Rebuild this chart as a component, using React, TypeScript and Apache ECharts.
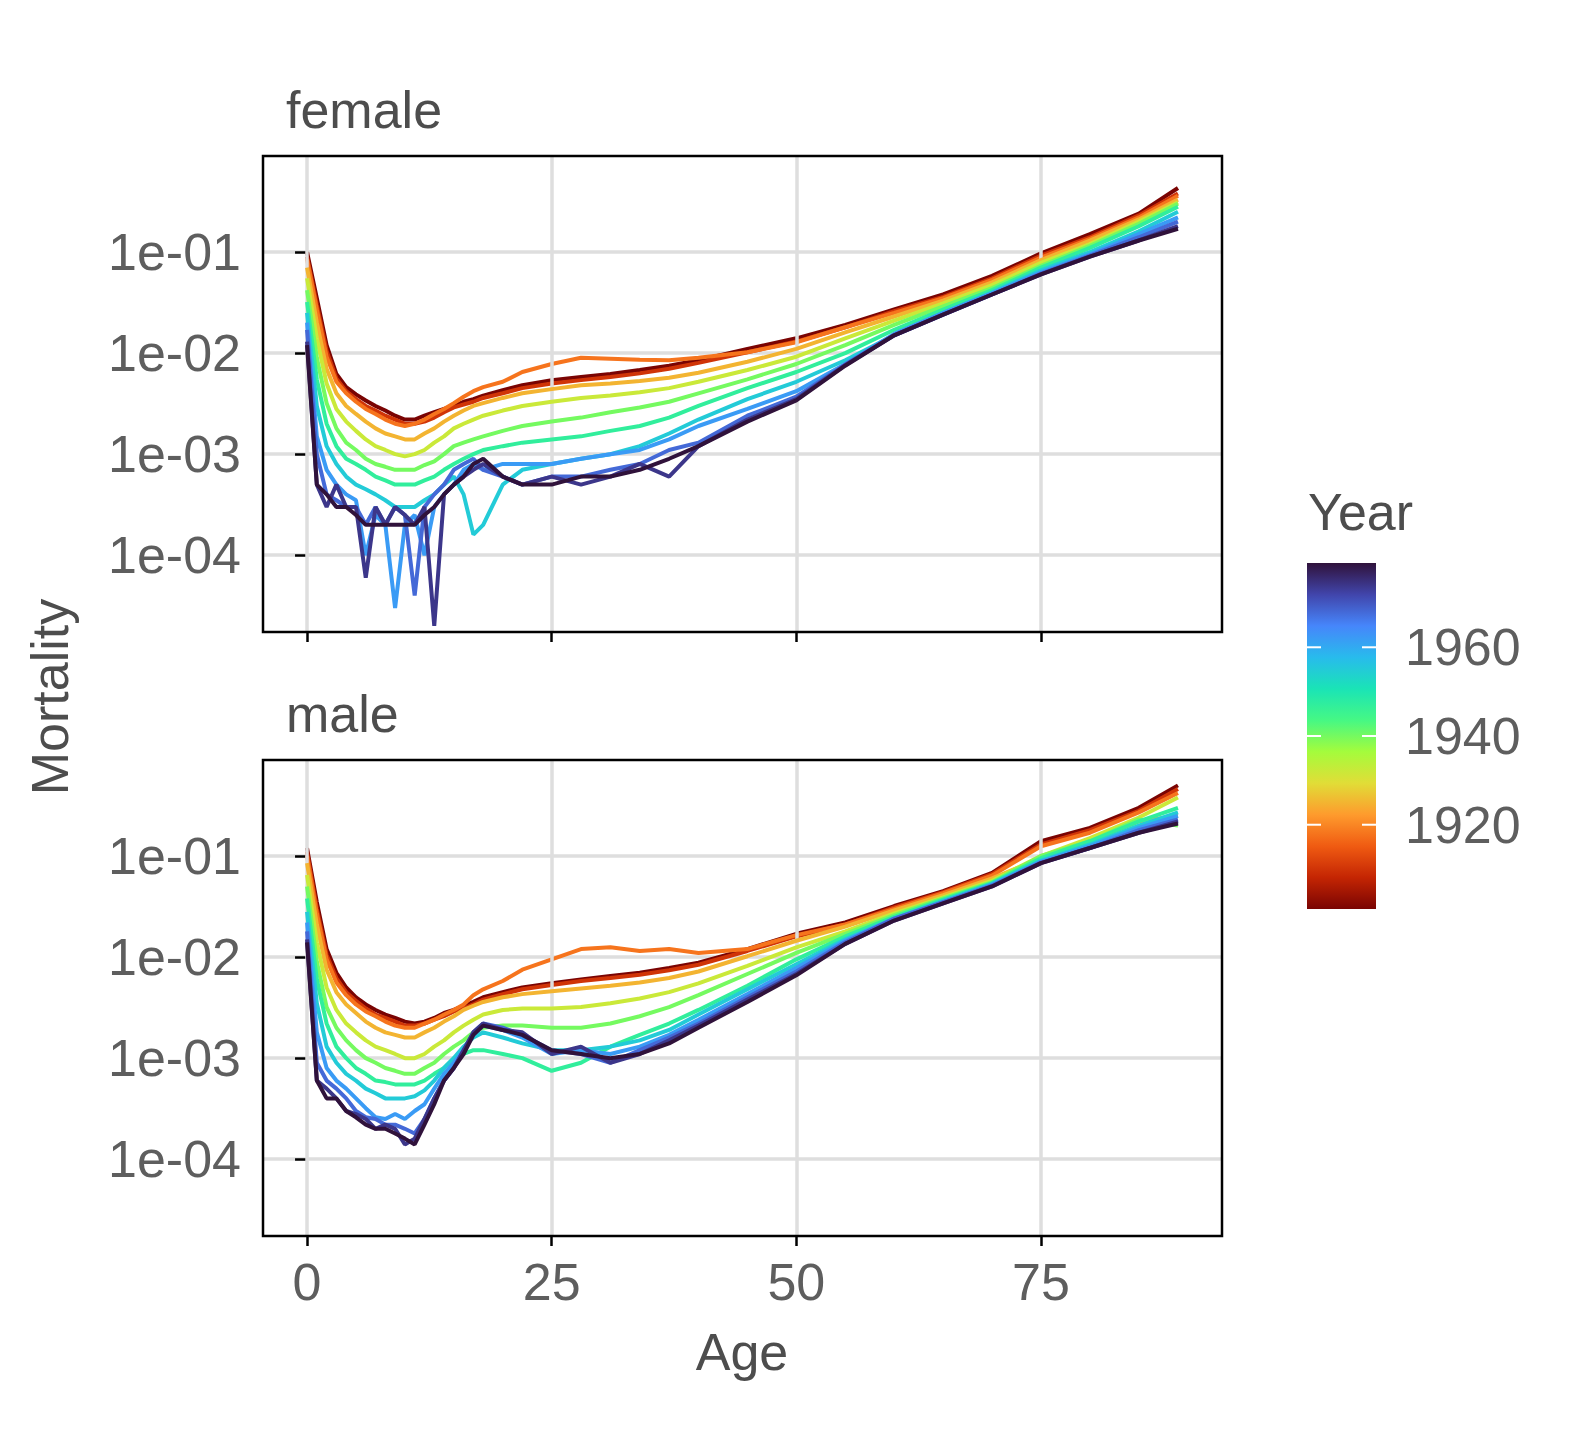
import React, { useEffect, useRef } from "react";
import * as echarts from "echarts";

const ages = [0, 1, 2, 3, 4, 5, 6, 7, 8, 9, 10, 11, 12, 13, 14, 15, 16, 17, 18, 20, 22, 25, 28, 31, 34, 37, 40, 45, 50, 55, 60, 65, 70, 75, 80, 85, 89];
const years = [1901, 1910, 1918, 1925, 1932, 1940, 1947, 1955, 1962, 1968, 1974, 1979];

const female: number[][] = [
  [0.10, 0.035, 0.012, 0.0062, 0.0046, 0.0039, 0.0034, 0.003, 0.0027, 0.0024, 0.0022, 0.0022, 0.0024, 0.0026, 0.0028, 0.003, 0.0033, 0.0035, 0.0038, 0.0043, 0.0048, 0.0054, 0.0058, 0.0062, 0.0068, 0.0075, 0.0085, 0.011, 0.014, 0.019, 0.027, 0.038, 0.058, 0.097, 0.15, 0.24, 0.43],
  [0.09, 0.03, 0.0105, 0.0056, 0.0042, 0.0035, 0.003, 0.0027, 0.0024, 0.0022, 0.002, 0.002, 0.0021, 0.0023, 0.0026, 0.0029, 0.0031, 0.0033, 0.0036, 0.004, 0.0045, 0.005, 0.0054, 0.0058, 0.0063, 0.007, 0.008, 0.0102, 0.013, 0.018, 0.026, 0.036, 0.055, 0.092, 0.14, 0.23, 0.38],
  [0.085, 0.027, 0.0092, 0.0052, 0.004, 0.0033, 0.0028, 0.0025, 0.0022, 0.002, 0.0019, 0.002, 0.0022, 0.0025, 0.0028, 0.0032, 0.0037, 0.0042, 0.0046, 0.0052, 0.0065, 0.0078, 0.009, 0.0088, 0.0086, 0.0085, 0.009, 0.0102, 0.0128, 0.018, 0.025, 0.035, 0.053, 0.088, 0.135, 0.22, 0.36],
  [0.07, 0.02, 0.007, 0.004, 0.003, 0.0025, 0.0021, 0.0018, 0.0016, 0.0015, 0.0014, 0.0014, 0.0016, 0.0018, 0.0021, 0.0024, 0.0027, 0.003, 0.0032, 0.0036, 0.004, 0.0044, 0.0048, 0.005, 0.0053, 0.0057, 0.0064, 0.0082, 0.011, 0.016, 0.023, 0.033, 0.05, 0.083, 0.13, 0.21, 0.33],
  [0.055, 0.014, 0.005, 0.0028, 0.0021, 0.0017, 0.0014, 0.0012, 0.0011, 0.001, 0.00095, 0.001, 0.0011, 0.0013, 0.0015, 0.0018, 0.002, 0.0022, 0.0024, 0.0027, 0.003, 0.0033, 0.0036, 0.0038, 0.0041, 0.0045, 0.0052, 0.0068, 0.0092, 0.014, 0.021, 0.031, 0.047, 0.078, 0.12, 0.2, 0.31],
  [0.042, 0.009, 0.0032, 0.0018, 0.0013, 0.0011, 0.0009, 0.0008, 0.00075, 0.0007, 0.0007, 0.0007, 0.00078, 0.00085, 0.001, 0.0012, 0.0013, 0.0014, 0.0015, 0.0017, 0.0019, 0.0021, 0.0023, 0.0026, 0.0029, 0.0033, 0.004, 0.0055, 0.0078, 0.012, 0.019, 0.029, 0.044, 0.073, 0.115, 0.19, 0.3],
  [0.032, 0.0055, 0.002, 0.0012, 0.0009, 0.0008, 0.0007, 0.0006, 0.00055, 0.0005, 0.0005, 0.0005, 0.00055, 0.0006, 0.0007, 0.0008, 0.0009, 0.001, 0.0011, 0.0012, 0.0013, 0.0014, 0.0015, 0.0017, 0.0019, 0.0023, 0.003, 0.0045, 0.0065, 0.01, 0.017, 0.027, 0.042, 0.07, 0.11, 0.18, 0.28],
  [0.025, 0.003, 0.0012, 0.0008, 0.0006, 0.0005, 0.00045, 0.0004, 0.00035, 0.0003, 0.0003, 0.0003, 0.00035, 0.0004, 0.0005, 0.0006, 0.0004, 0.00016, 0.0002, 0.0005, 0.0007, 0.0008, 0.0009, 0.001, 0.0012, 0.0016, 0.0022, 0.0035, 0.0052, 0.0085, 0.015, 0.025, 0.04, 0.066, 0.1, 0.16, 0.25],
  [0.02, 0.0015, 0.0007, 0.0005, 0.0004, 0.00035, 0.0001, 0.00025, 0.0002, 0.00003, 0.0002, 0.00025, 0.0001, 0.0003, 0.0004, 0.0005, 0.0007, 0.0008, 0.0007, 0.0008, 0.0008, 0.0008, 0.0009, 0.001, 0.0011, 0.0014, 0.0019, 0.0028, 0.0042, 0.0078, 0.0155, 0.025, 0.039, 0.063, 0.095, 0.15, 0.22],
  [0.017, 0.001, 0.0004, 0.00035, 0.0003, 0.0003, 0.0002, 0.0003, 0.0002, 0.0003, 0.00025, 0.00004, 0.0003, 0.0004, 0.0005, 0.0007, 0.0008, 0.0009, 0.0007, 0.0006, 0.0005, 0.0006, 0.0006, 0.0007, 0.0008, 0.0011, 0.0013, 0.0024, 0.0037, 0.0077, 0.015, 0.024, 0.038, 0.061, 0.092, 0.14, 0.2],
  [0.013, 0.0005, 0.0003, 0.0005, 0.0003, 0.0003, 0.00006, 0.0003, 0.0002, 0.0003, 0.00025, 0.0002, 0.0003, 0.00002, 0.0004, 0.0005, 0.0006, 0.0007, 0.0008, 0.0006, 0.0005, 0.0006, 0.0005, 0.0006, 0.0008, 0.0006, 0.0012, 0.0022, 0.0035, 0.0076, 0.015, 0.024, 0.038, 0.06, 0.09, 0.13, 0.18],
  [0.012, 0.0005, 0.0004, 0.0003, 0.0003, 0.00025, 0.0002, 0.0002, 0.0002, 0.0002, 0.0002, 0.0002, 0.00025, 0.0003, 0.0004, 0.0005, 0.0006, 0.0008, 0.0009, 0.0006, 0.0005, 0.0005, 0.0006, 0.0006, 0.0007, 0.0009, 0.0012, 0.0021, 0.0034, 0.0075, 0.015, 0.024, 0.038, 0.06, 0.09, 0.13, 0.17],
];

const male: number[][] = [
  [0.12, 0.035, 0.012, 0.007, 0.005, 0.004, 0.0034, 0.003, 0.0027, 0.0025, 0.0023, 0.0022, 0.0023, 0.0025, 0.0028, 0.003, 0.0033, 0.0036, 0.004, 0.0045, 0.005, 0.0055, 0.006, 0.0065, 0.007, 0.0078, 0.0088, 0.012, 0.017, 0.022, 0.032, 0.045, 0.068, 0.14, 0.19, 0.3, 0.5],
  [0.11, 0.03, 0.0105, 0.0062, 0.0045, 0.0037, 0.0031, 0.0027, 0.0025, 0.0023, 0.0021, 0.0021, 0.0022, 0.0024, 0.0026, 0.0029, 0.0031, 0.0034, 0.0038, 0.0043, 0.0048, 0.0053, 0.0058, 0.0062, 0.0067, 0.0074, 0.0084, 0.0115, 0.016, 0.021, 0.031, 0.044, 0.066, 0.13, 0.18, 0.28, 0.46],
  [0.1, 0.027, 0.0095, 0.0056, 0.0042, 0.0034, 0.0029, 0.0026, 0.0023, 0.0021, 0.002, 0.002, 0.0022, 0.0024, 0.0027, 0.003, 0.0034, 0.0042, 0.0048, 0.0058, 0.0075, 0.0095, 0.012, 0.0125, 0.0115, 0.012, 0.011, 0.012, 0.0165, 0.021, 0.03, 0.043, 0.064, 0.125, 0.17, 0.27, 0.42],
  [0.085, 0.021, 0.0075, 0.0045, 0.0034, 0.0028, 0.0023, 0.002, 0.0018, 0.0017, 0.0016, 0.0016, 0.0018, 0.002, 0.0023, 0.0026, 0.003, 0.0033, 0.0036, 0.004, 0.0043, 0.0046, 0.0049, 0.0052, 0.0056, 0.0062, 0.0072, 0.0102, 0.0145, 0.02, 0.029, 0.041, 0.06, 0.095, 0.14, 0.22, 0.25],
  [0.065, 0.014, 0.005, 0.003, 0.0022, 0.0018, 0.0015, 0.0013, 0.0012, 0.0011, 0.001, 0.001, 0.0011, 0.0013, 0.0015, 0.0018, 0.0021, 0.0024, 0.0027, 0.003, 0.0031, 0.0031, 0.0032, 0.0035, 0.0039, 0.0045, 0.0055, 0.0082, 0.0125, 0.018, 0.027, 0.039, 0.057, 0.1, 0.15, 0.24, 0.38],
  [0.05, 0.009, 0.0032, 0.002, 0.0015, 0.0012, 0.001, 0.0009, 0.0008, 0.00075, 0.0007, 0.0007, 0.0008, 0.0009, 0.0011, 0.0013, 0.0015, 0.0018, 0.002, 0.0021, 0.0021, 0.002, 0.002, 0.0022, 0.0026, 0.0032, 0.0042, 0.0068, 0.011, 0.017, 0.026, 0.038, 0.055, 0.1, 0.14, 0.23, 0.2],
  [0.038, 0.006, 0.0022, 0.0013, 0.001, 0.0008, 0.0007, 0.0006, 0.00058, 0.00055, 0.00055, 0.00055, 0.0006, 0.0007, 0.0008, 0.001, 0.0011, 0.0012, 0.0012, 0.0011, 0.001, 0.00075, 0.0009, 0.0013, 0.0017, 0.0022, 0.003, 0.0052, 0.0095, 0.016, 0.025, 0.037, 0.054, 0.095, 0.14, 0.22, 0.3],
  [0.028, 0.0035, 0.0013, 0.0009, 0.0007, 0.0006, 0.0005, 0.00045, 0.0004, 0.0004, 0.0004, 0.00042, 0.00048, 0.0006, 0.0008, 0.001, 0.0013, 0.0016, 0.0018, 0.0016, 0.0014, 0.0012, 0.0012, 0.0013, 0.0015, 0.0019, 0.0027, 0.0048, 0.0085, 0.015, 0.024, 0.036, 0.053, 0.09, 0.13, 0.2, 0.27],
  [0.022, 0.0018, 0.0008, 0.0006, 0.0005, 0.0004, 0.00032, 0.00026, 0.00025, 0.00028, 0.00025, 0.0003, 0.00035, 0.0005, 0.0007, 0.0009, 0.0012, 0.0017, 0.0021, 0.0019, 0.0016, 0.0011, 0.0012, 0.0011, 0.0013, 0.0017, 0.0024, 0.0043, 0.0078, 0.0145, 0.024, 0.035, 0.052, 0.088, 0.125, 0.19, 0.25],
  [0.018, 0.0009, 0.0006, 0.0005, 0.0004, 0.0003, 0.00026, 0.00025, 0.00022, 0.00022, 0.0002, 0.00018, 0.00025, 0.0004, 0.0006, 0.0008, 0.0012, 0.0018, 0.0022, 0.002, 0.0017, 0.0012, 0.0011, 0.0009, 0.0012, 0.0016, 0.0022, 0.004, 0.0072, 0.014, 0.024, 0.035, 0.051, 0.086, 0.12, 0.18, 0.23],
  [0.015, 0.0006, 0.0005, 0.0004, 0.0003, 0.00028, 0.00025, 0.0002, 0.00022, 0.0002, 0.00014, 0.00016, 0.00025, 0.0004, 0.0006, 0.0008, 0.0012, 0.0018, 0.0022, 0.0019, 0.0018, 0.0011, 0.0013, 0.0009, 0.0011, 0.0015, 0.0021, 0.0038, 0.0068, 0.0135, 0.023, 0.034, 0.05, 0.085, 0.12, 0.17, 0.22],
  [0.014, 0.0006, 0.0004, 0.0004, 0.0003, 0.00026, 0.00022, 0.0002, 0.0002, 0.00018, 0.00016, 0.00014, 0.00022, 0.00035, 0.0006, 0.0008, 0.0011, 0.0017, 0.0021, 0.0019, 0.0017, 0.0012, 0.0011, 0.001, 0.0011, 0.0014, 0.002, 0.0036, 0.0066, 0.0135, 0.023, 0.034, 0.05, 0.085, 0.12, 0.17, 0.21],
];

const yearMin = 1901;
const yearMax = 1979;
const legendTicks = [1920, 1940, 1960];
const yTicks = [1e-4, 1e-3, 1e-2, 1e-1];
const xTicks = [0, 25, 50, 75];
const panelNames = ["female", "male"];

// turbo, low year -> high year
const turbo = ["#7a0403", "#c42503", "#f05b12", "#fe9b2d", "#e1dd37", "#a4fc3c", "#46f884", "#1ae4b6", "#28bbec", "#4686fb", "#4145ab", "#30123b"];

const FONT = "Liberation Sans, Arial, sans-serif";
const panels = [
  { top: 156, height: 476 },
  { top: 760, height: 476 },
];
const gridLeft = 263;
const gridW = 959;
const barTop = 563;
const barH = 346;
const barX = 1307;
const barW = 69;

const yearColor = (y: number) => echarts.color.lerp((y - yearMin) / (yearMax - yearMin), turbo) as string;

export default function App() {
  const ref = useRef<HTMLDivElement>(null);

  useEffect(() => {
    if (!ref.current) return;
    document.body.style.margin = "0";
    const chart = echarts.init(ref.current, undefined, { renderer: "svg" });

    const grids = panels.map((p) => ({ left: gridLeft, top: p.top, width: gridW, height: p.height }));

    const xAxes = panels.map((_, i) => ({
      type: "value",
      gridIndex: i,
      min: -4.5,
      max: 93.5,
      splitLine: { show: false },
      axisLine: { show: false },
      axisTick: { show: true, customValues: xTicks, length: 10, lineStyle: { color: "#000", width: 2.5 } },
      axisLabel: { show: i === 1, customValues: xTicks, color: "#5e5e5e", fontSize: 52, fontFamily: FONT, margin: 20 },
    }));

    const yAxes = panels.map((_, i) => ({
      type: "log",
      gridIndex: i,
      logBase: 10,
      min: 1.74e-5,
      max: 0.891,
      splitLine: { show: true, lineStyle: { color: "#dedede", width: 3.5 } },
      axisLine: { show: false },
      axisTick: { show: true, customValues: yTicks, length: 12, lineStyle: { color: "#000", width: 2.5 } },
      axisLabel: {
        customValues: yTicks,
        color: "#5e5e5e",
        fontSize: 52,
        fontFamily: FONT,
        margin: 22,
        formatter: (v: number) => "1e-" + String(-Math.round(Math.log10(v))).padStart(2, "0"),
      },
    }));

    const series: any[] = [];
    [female, male].forEach((rows, pi) => {
      series.push({
        type: "line",
        xAxisIndex: pi,
        yAxisIndex: pi,
        data: [],
        silent: true,
        z: 1,
        markLine: {
          silent: true,
          symbol: "none",
          label: { show: false },
          lineStyle: { color: "#dedede", width: 3.5, type: "solid" },
          data: xTicks.map((x) => ({ xAxis: x })),
        },
      });
      rows.forEach((vals, ri) => {
        const c = yearColor(years[ri]);
        series.push({
          type: "line",
          name: panelNames[pi] + years[ri],
          xAxisIndex: pi,
          yAxisIndex: pi,
          showSymbol: false,
          z: 2 + ri,
          color: c,
          lineStyle: { width: 4, color: c },
          data: ages.map((a, k) => [a, vals[k]]),
        });
      });
    });

    const tickY = (y: number) => barTop + barH - ((y - yearMin) / (yearMax - yearMin)) * barH;

    chart.setOption({
      animation: false,
      grid: grids,
      xAxis: xAxes,
      yAxis: yAxes,
      graphic: [
        ...panels.map((p) => ({
          type: "rect",
          z: 50,
          shape: { x: gridLeft, y: p.top, width: gridW, height: p.height },
          style: { fill: "none", stroke: "#000", lineWidth: 2.5 },
        })),
        { type: "text", left: 286, top: 84, style: { text: "female", fill: "#4d4d4d", font: `52px ${FONT}` } },
        { type: "text", left: 286, top: 688, style: { text: "male", fill: "#4d4d4d", font: `52px ${FONT}` } },
        {
          type: "text",
          x: 50,
          y: 697,
          rotation: Math.PI / 2,
          style: { text: "Mortality", fill: "#4d4d4d", font: `52px ${FONT}`, textAlign: "center", textVerticalAlign: "middle" },
        },
        { type: "text", x: 742, y: 1352, style: { text: "Age", fill: "#4d4d4d", font: `52px ${FONT}`, textAlign: "center", textVerticalAlign: "middle" } },
        { type: "text", x: 1308, y: 512, style: { text: "Year", fill: "#4d4d4d", font: `52px ${FONT}`, textVerticalAlign: "middle" } },
        {
          type: "rect",
          shape: { x: barX, y: barTop, width: barW, height: barH },
          style: {
            fill: new echarts.graphic.LinearGradient(
              0, 1, 0, 0,
              turbo.map((c, i) => ({ offset: i / (turbo.length - 1), color: c }))
            ),
          },
        },
        ...legendTicks.flatMap((yr) => [
          { type: "text", x: 1405, y: tickY(yr), style: { text: String(yr), fill: "#5e5e5e", font: `52px ${FONT}`, textVerticalAlign: "middle" } },
          { type: "line", z: 100, shape: { x1: barX, y1: tickY(yr), x2: barX + 14, y2: tickY(yr) }, style: { stroke: "#fff", lineWidth: 2 } },
          { type: "line", z: 100, shape: { x1: barX + barW - 14, y1: tickY(yr), x2: barX + barW, y2: tickY(yr) }, style: { stroke: "#fff", lineWidth: 2 } },
        ]),
      ],
      series,
    });

    return () => chart.dispose();
  }, []);

  return <div ref={ref} style={{ width: 1584, height: 1440, background: "#fff" }} />;
}
